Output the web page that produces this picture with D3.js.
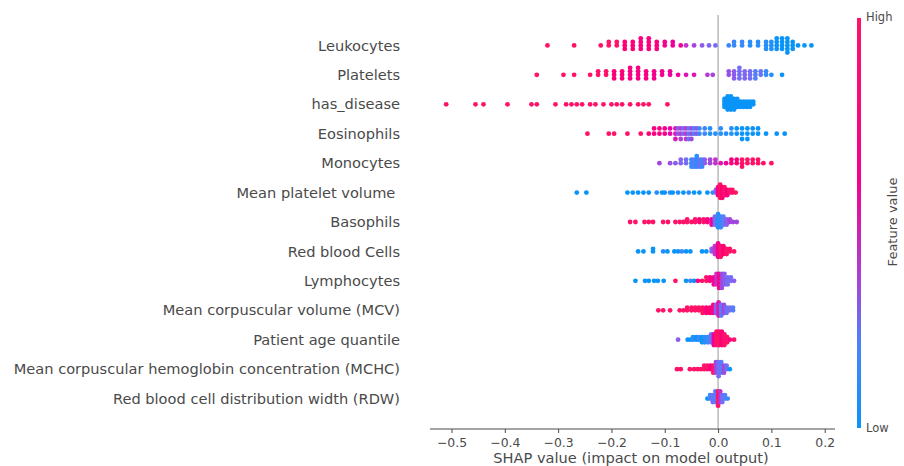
<!DOCTYPE html>
<html><head><meta charset="utf-8">
<script src="https://cdn.jsdelivr.net/npm/d3@7"></script>
<style>
body{margin:0;background:#fff;}
text{font-family:"DejaVu Sans",sans-serif;white-space:pre;}
</style></head>
<body><svg id="c" width="904" height="466"></svg>
<script>
// Feature names, top to bottom
const features = ["Leukocytes","Platelets","has_disease","Eosinophils","Monocytes","Mean platelet volume ","Basophils","Red blood Cells","Lymphocytes","Mean corpuscular volume (MCV)","Patient age quantile","Mean corpuscular hemoglobin concentration (MCHC)","Red blood cell distribution width (RDW)"];
const xTicks = [-0.5,-0.4,-0.3,-0.2,-0.1,0.0,0.1,0.2];
// Each entry: [SHAP value, feature value (0 low .. 1 high), number of samples]
const leukocytes = [[-0.32,1,1],[-0.27,1,1],[-0.22,1,1],[-0.205,1,2],[-0.19,1,2],[-0.175,0.95,3],[-0.16,0.95,3],[-0.145,0.9,4],[-0.13,0.9,4],[-0.115,0.9,3],[-0.1,0.85,2],[-0.085,0.8,2],[-0.07,0.8,1],[-0.06,0.6,1],[-0.045,0.5,1],[-0.03,0.4,1],[-0.017,0.35,1],[-0.005,0.3,1],[0.02,0.1,1],[0.03,0.1,2],[0.045,0.1,2],[0.06,0.05,2],[0.075,0.05,2],[0.09,0.05,3],[0.1,0.05,3],[0.11,0,4],[0.12,0,4],[0.13,0,5],[0.14,0,3],[0.15,0,1],[0.162,0,1],[0.175,0,1]];
const platelets = [[-0.34,1,1],[-0.29,1,1],[-0.27,1,1],[-0.24,1,1],[-0.225,1,2],[-0.21,1,2],[-0.195,0.95,3],[-0.18,0.95,3],[-0.165,0.9,4],[-0.15,0.9,4],[-0.135,0.9,3],[-0.12,0.85,3],[-0.105,0.85,2],[-0.09,0.8,2],[-0.075,0.8,1],[-0.06,0.7,1],[-0.045,0.7,1],[-0.02,0.55,1],[-0.01,0.5,1],[0.02,0.45,2],[0.03,0.4,3],[0.04,0.3,4],[0.05,0.35,3],[0.06,0.3,3],[0.07,0.2,3],[0.08,0.25,2],[0.09,0.1,2],[0.1,0.05,1],[0.12,0,1]];
const hasDisease = [[-0.51,1,1],[-0.455,1,1],[-0.44,1,1],[-0.395,1,1],[-0.35,1,1],[-0.34,1,1],[-0.305,1,1],[-0.285,1,1],[-0.275,1,1],[-0.265,1,1],[-0.255,1,1],[-0.24,1,1],[-0.23,1,1],[-0.215,1,1],[-0.2,1,1],[-0.19,1,1],[-0.18,1,1],[-0.165,1,1],[-0.15,1,1],[-0.14,1,1],[-0.13,1,1],[-0.095,1,1],[0.012,0,4],[0.018,0,6],[0.024,0,6],[0.03,0,5],[0.036,0,4],[0.042,0,3],[0.048,0,3],[0.054,0,3],[0.06,0,3],[0.066,0,2]];
const eosinophils = [[-0.245,1,1],[-0.205,1,1],[-0.195,1,1],[-0.17,1,1],[-0.145,1,1],[-0.13,0.95,1],[-0.12,0.9,2],[-0.11,0.9,2],[-0.1,0.85,2],[-0.09,0.75,2],[-0.08,0.7,3],[-0.075,0.4,2],[-0.07,0.55,3],[-0.065,0.3,2],[-0.06,0.6,3],[-0.055,0.2,3],[-0.05,0.5,3],[-0.045,0.15,2],[-0.04,0.45,2],[-0.035,0.1,2],[-0.025,0.1,2],[-0.015,0.05,2],[-0.005,0.05,1],[0.005,0.05,2],[0.015,0.05,1],[0.025,0.05,2],[0.035,0,2],[0.045,0,3],[0.055,0,3],[0.065,0,2],[0.075,0,2],[0.09,0,1],[0.11,0,1],[0.125,0,1]];
const monocytes = [[-0.11,0.5,1],[-0.09,0.45,1],[-0.08,0.4,1],[-0.07,0.35,2],[-0.06,0.3,2],[-0.05,0.1,3],[-0.045,0.2,3],[-0.04,0.05,4],[-0.035,0.3,3],[-0.03,0.1,3],[-0.025,0.4,2],[-0.015,0.5,2],[-0.005,0.6,2],[0.005,0.7,1],[0.015,0.8,1],[0.025,0.9,2],[0.035,0.95,2],[0.045,1,3],[0.055,1,2],[0.065,1,2],[0.075,1,2],[0.085,1,1],[0.1,1,1]];
const meanPlateletVolume = [[-0.265,0,1],[-0.247,0,1],[-0.17,0,1],[-0.16,0,1],[-0.15,0,1],[-0.14,0,1],[-0.13,0,1],[-0.115,0.05,1],[-0.105,0,1],[-0.1,0,1],[-0.09,0.05,1],[-0.085,0,1],[-0.075,0.05,1],[-0.065,0,1],[-0.055,0.05,1],[-0.045,0,1],[-0.035,0,1],[-0.02,0,1],[-0.01,0.1,1],[-0.004,0.4,2],[0.0,0.9,4],[0.004,1,6],[0.008,0.95,5],[0.012,1,4],[0.017,0.9,3],[0.022,1,2],[0.027,1,2],[0.033,1,1]];
const basophils = [[-0.165,1,1],[-0.155,1,1],[-0.138,1,1],[-0.13,1,1],[-0.122,1,1],[-0.103,1,1],[-0.094,1,1],[-0.08,1,1],[-0.072,1,1],[-0.065,1,1],[-0.058,1,2],[-0.05,1,1],[-0.043,1,2],[-0.035,0.95,2],[-0.027,1,2],[-0.02,0.9,2],[-0.012,0.8,3],[-0.006,0.3,4],[0,0.05,6],[0.005,0.1,5],[0.01,0.2,4],[0.016,0.4,3],[0.022,0.5,2],[0.028,0.5,1],[0.035,0.5,1]];
const redBloodCells = [[-0.15,0,1],[-0.14,0,1],[-0.122,0,2],[-0.103,0.05,1],[-0.095,0,1],[-0.082,0,1],[-0.075,0,1],[-0.068,0.1,1],[-0.06,0,1],[-0.052,0,1],[-0.03,0,1],[-0.022,0,1],[-0.012,0.4,2],[-0.006,0.6,4],[0,0.85,6],[0.005,1,5],[0.01,0.95,4],[0.016,1,3],[0.022,1,2],[0.03,1,1]];
const lymphocytes = [[-0.155,0,1],[-0.137,0,1],[-0.13,0,1],[-0.12,0,1],[-0.113,0,1],[-0.102,0,1],[-0.08,1,1],[-0.06,0,1],[-0.052,0.1,1],[-0.045,0,1],[-0.038,0.9,1],[-0.03,1,1],[-0.022,1,2],[-0.015,0.9,2],[-0.008,0.85,3],[-0.003,0.6,4],[0.002,0.9,5],[0.007,0.5,5],[0.012,0.4,4],[0.018,0.3,3],[0.024,0.3,2],[0.03,0.4,1]];
const mcv = [[-0.112,1,1],[-0.103,1,1],[-0.09,1,1],[-0.072,1,1],[-0.065,1,1],[-0.058,1,2],[-0.05,1,2],[-0.043,1,2],[-0.036,1,2],[-0.029,1,3],[-0.022,0.95,3],[-0.015,0.95,3],[-0.009,0.9,4],[-0.004,0.4,4],[0.001,0.7,6],[0.006,0.2,5],[0.011,0.5,4],[0.016,0.3,3],[0.022,0.3,2],[0.028,0.2,2]];
const ageQuantile = [[-0.075,0.4,1],[-0.057,0,1],[-0.052,0,1],[-0.047,0.05,2],[-0.041,0,2],[-0.036,0.1,2],[-0.03,0,3],[-0.025,0.05,3],[-0.019,0.1,3],[-0.013,0.3,4],[-0.008,0.8,5],[-0.003,1,6],[0.002,1,6],[0.007,0.95,6],[0.012,1,5],[0.017,1,3],[0.022,0.9,1],[0.03,1,1]];
const mchc = [[-0.077,1,1],[-0.07,1,1],[-0.053,1,1],[-0.045,1,1],[-0.038,1,1],[-0.032,1,1],[-0.026,1,2],[-0.02,1,2],[-0.014,0.9,2],[-0.009,1,3],[-0.004,0.5,4],[0.001,0.3,5],[0.006,0.2,4],[0.011,0.5,3],[0.016,0.3,2],[0.022,0,1]];
const rdw = [[-0.02,0,1],[-0.015,0.1,2],[-0.01,0.3,3],[-0.005,0.2,4],[0,1,5],[0.004,0.6,4],[0.008,0.3,3],[0.013,0.2,2],[0.018,0.1,1]];

const rows = [leukocytes,platelets,hasDisease,eosinophils,monocytes,meanPlateletVolume,basophils,redBloodCells,lymphocytes,mcv,ageQuantile,mchc,rdw];

const svg = d3.select("#c");
const x = d3.scaleLinear().domain([-0.5,0.2]).range([451.5,824.7]);
const nF = features.length;
const y = d3.scaleLinear().domain([-1,nF]).range([428,16]);
const color = d3.scaleLinear().domain([0,0.5,1]).range(["#0a94f8","#a246de","#ff1268"]).interpolate(d3.interpolateHcl);
const textCol = "#4a4a4a";

svg.append("line").attr("x1",x(0)).attr("x2",x(0)).attr("y1",15).attr("y2",429)
  .attr("stroke","#999").attr("stroke-width",1);

const g = svg.append("g");
rows.forEach((data,i)=>{
  const pos = nF-1-i;
  const pts = [];
  data.forEach(d=>{ for(let k=0;k<d[2];k++) pts.push({v:d[0],f:d[1]}); });
  pts.sort((a,b)=>a.v-b.v);
  const mn = d3.min(pts,p=>p.v), mx = d3.max(pts,p=>p.v);
  const nbins = 100;
  let last=null, layer=0;
  pts.forEach(p=>{
    const q = Math.round(nbins*(p.v-mn)/(mx-mn));
    if(q!==last) layer=0;
    p.ys = Math.ceil(layer/2)*((layer%2)*2-1);
    layer++; last=q;
  });
  const maxY = d3.max(pts,p=>p.ys+1);
  const sc = 0.9*(0.4/maxY);
  g.selectAll(null).data(pts).enter().append("circle")
    .attr("cx",p=>x(p.v)).attr("cy",p=>y(pos+p.ys*sc)).attr("r",2.4)
    .attr("fill",p=>color(p.f));
});

svg.append("g").selectAll("text").data(features).enter().append("text")
  .attr("x",400).attr("y",(d,i)=>y(nF-1-i)).attr("dy","0.35em")
  .attr("text-anchor","end").attr("font-size",14.6).attr("fill",textCol).text(d=>d);

const ax = svg.append("g").attr("transform","translate(0,429)")
  .call(d3.axisBottom(x).tickValues(xTicks).tickFormat(d3.format(".1f")).tickSize(4).tickSizeOuter(0));
ax.select(".domain").attr("d","M430,0H835").attr("stroke",textCol);
ax.selectAll(".tick line").attr("stroke",textCol);
ax.selectAll(".tick text").attr("font-size",12.4).attr("fill",textCol).attr("font-family","DejaVu Sans").attr("dy","0.85em");
svg.append("text").attr("x",631).attr("y",463).attr("text-anchor","middle")
  .attr("font-size",14.6).attr("fill",textCol).text("SHAP value (impact on model output)");

const defs = svg.append("defs");
const grad = defs.append("linearGradient").attr("id","cb").attr("x1",0).attr("y1",0).attr("x2",0).attr("y2",1);
[[0,1],[0.4,0.85],[0.65,0.5],[0.8,0.15],[1,0]].forEach(s=>grad.append("stop").attr("offset",s[0]).attr("stop-color",color(s[1])));
svg.append("rect").attr("x",857).attr("y",18).attr("width",4).attr("height",410).attr("fill","url(#cb)");
svg.append("text").attr("x",866).attr("y",17).attr("dy","0.35em").attr("font-size",11.5).attr("fill",textCol).text("High");
svg.append("text").attr("x",866).attr("y",428).attr("dy","0.35em").attr("font-size",11.5).attr("fill",textCol).text("Low");
svg.append("text").attr("transform","translate(897,222) rotate(-90)").attr("text-anchor","middle")
  .attr("font-size",13).attr("fill",textCol).text("Feature value");
</script></body></html>
